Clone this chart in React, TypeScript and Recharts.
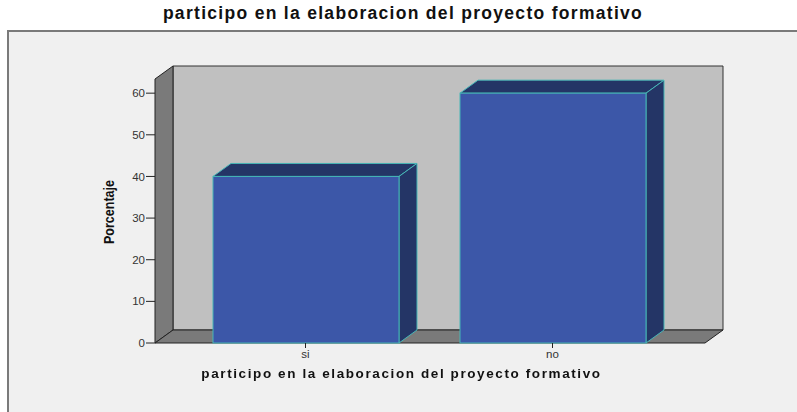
import { BarChart, Bar, XAxis, YAxis, ReferenceArea } from 'recharts';

const categories = ['si', 'no'];
const percents = [40, 60];
const yTicks = [0, 10, 20, 30, 40, 50, 60];

const title = 'participo en la elaboracion del proyecto formativo';
const yTitle = 'Porcentaje';

const FONT = 'Arial, "Liberation Sans", sans-serif';
const DX = 18;
const DY = 13;
const PAD_L = 27;
const PAD_R = 29;

const data = categories.map((c, i) => ({ cat: c, pct: percents[i] }));

function Walls(props: any) {
  const { x, y, width, height } = props;
  const L = x - PAD_L;
  const R = x + width + PAD_R;
  const T = y;
  const B = y + height;
  const pts = (a: number[][]) => a.map((p) => p.join(',')).join(' ');
  return (
    <g>
      <polygon
        points={pts([[L + DX, T - DY], [R + DX, T - DY], [R + DX, B - DY], [L + DX, B - DY]])}
        fill="#c0c0c0"
        stroke="#333"
        strokeWidth={1}
      />
      <polygon
        points={pts([[L, T], [L + DX, T - DY], [L + DX, B - DY], [L, B]])}
        fill="#7a7a7a"
        stroke="#222"
        strokeWidth={1}
      />
      <polygon
        points={pts([[L, B], [L + DX, B - DY], [R + DX, B - DY], [R, B]])}
        fill="#7a7a7a"
        stroke="#222"
        strokeWidth={1}
      />
    </g>
  );
}

function Bar3D(props: any) {
  const { x, y, width, height } = props;
  const w = width;
  const h = height;
  const pts = (a: number[][]) => a.map((p) => p.join(',')).join(' ');
  return (
    <g>
      <polygon
        points={pts([[x, y], [x + DX, y - DY], [x + w + DX, y - DY], [x + w, y]])}
        fill="#243566"
        stroke="#45b5b5"
        strokeWidth={1}
      />
      <polygon
        points={pts([[x + w, y], [x + w + DX, y - DY], [x + w + DX, y + h - DY], [x + w, y + h]])}
        fill="#243566"
        stroke="#45b5b5"
        strokeWidth={1}
      />
      <rect x={x} y={y} width={w} height={h} fill="#3c57a8" stroke="#45b5b5" strokeWidth={1} />
    </g>
  );
}

export default function App() {
  return (
    <div style={{ position: 'fixed', left: 0, top: 0, width: 797, height: 412, background: '#fff', fontFamily: FONT }}>
      <div
        style={{
          position: 'absolute',
          left: 0,
          top: 3,
          width: 806,
          textAlign: 'center',
          fontSize: 17.5,
          fontWeight: 'bold',
          letterSpacing: 1.3,
          color: '#111',
        }}
      >
        {title}
      </div>
      <div
        style={{
          position: 'absolute',
          left: 7,
          top: 30,
          width: 790,
          height: 382,
          background: '#f0f0f0',
          borderLeft: '2px solid #7a7a7a',
          borderTop: '2px solid #7a7a7a',
          boxSizing: 'border-box',
        }}
      />
      <div style={{ position: 'absolute', left: 0, top: 0 }}>
        <BarChart width={797} height={412} data={data} margin={{ top: 79, right: 92, bottom: 39, left: 95 }}>
          <ReferenceArea y1={0} y2={63.4} shape={<Walls />} ifOverflow="visible" />
          <XAxis
            dataKey="cat"
            height={30}
            padding={{ left: PAD_L, right: PAD_R }}
            axisLine={false}
            tickSize={5}
            tickLine={{ stroke: '#222' }}
            tick={{ fill: '#333', fontSize: 11.5, fontFamily: FONT }}
            tickMargin={2}
          />
          <YAxis
            width={60}
            domain={[0, 63.4]}
            ticks={yTicks}
            axisLine={false}
            tickSize={9}
            tickMargin={1}
            tickLine={{ stroke: '#222' }}
            tick={{ fill: '#333', fontSize: 11.5, fontFamily: FONT }}
            label={({ viewBox }: any) => {
              const cx = viewBox.x + 13;
              const cy = 212;
              return (
                <text
                  x={cx}
                  y={cy}
                  transform={`rotate(-90, ${cx}, ${cy})`}
                  textAnchor="middle"
                  dominantBaseline="central"
                  fontFamily='"Liberation Sans Narrow", "Arial Narrow", Arial, sans-serif'
                  fontWeight="bold"
                  fontSize={15}
                  textLength={64}
                  lengthAdjust="spacingAndGlyphs"
                  fill="#111"
                >
                  {yTitle}
                </text>
              );
            }}
          />
          <Bar dataKey="pct" barSize={186} shape={<Bar3D />} isAnimationActive={false} />
        </BarChart>
      </div>
      <div
        style={{
          position: 'absolute',
          left: 0,
          top: 366,
          width: 803,
          textAlign: 'center',
          fontSize: 13.5,
          fontWeight: 'bold',
          letterSpacing: 1.6,
          color: '#111',
        }}
      >
        {title}
      </div>
    </div>
  );
}
